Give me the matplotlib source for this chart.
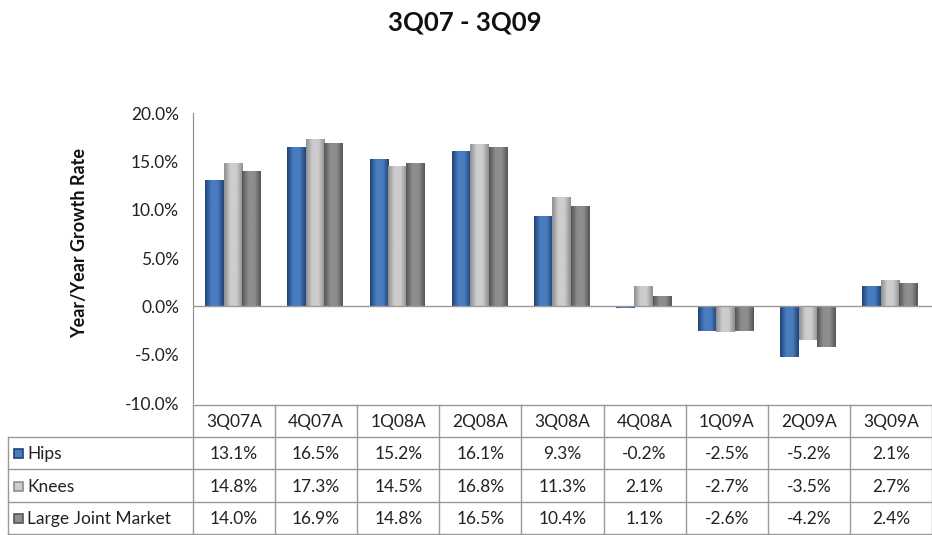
import numpy as np
import matplotlib.pyplot as plt
from matplotlib.colors import LinearSegmentedColormap

# chart data
quarters = ['3Q07A', '4Q07A', '1Q08A', '2Q08A', '3Q08A', '4Q08A', '1Q09A', '2Q09A', '3Q09A']
hips = [13.1, 16.5, 15.2, 16.1, 9.3, -0.2, -2.5, -5.2, 2.1]
knees = [14.8, 17.3, 14.5, 16.8, 11.3, 2.1, -2.7, -3.5, 2.7]
large_joint = [14.0, 16.9, 14.8, 16.5, 10.4, 1.1, -2.6, -4.2, 2.4]
series_names = ['Hips', 'Knees', 'Large Joint Market']
y_ticks = [-10, -5, 0, 5, 10, 15, 20]

plt.rcParams['font.family'] = ['Lato', 'DejaVu Sans']

W, H = 932, 535
fig = plt.figure(figsize=(W / 100, H / 100), dpi=100)

# plot area
left, right, top, bottom = 193, 932, 113, 403
ax = fig.add_axes([left / W, 1 - bottom / H, (right - left) / W, (bottom - top) / H])

series = [hips, knees, large_joint]
# (edge, centre) colours for a rounded look
shades = [('#1f4377', '#4a7dc0'), ('#8e8e8e', '#cdcdcd'), ('#555555', '#8e8e8e')]
offsets = [-0.24, -0.015, 0.21]
width = 0.22
x = np.arange(len(quarters))

for vals, (dark, light), off in zip(series, shades, offsets):
    bars = ax.bar(x + off, vals, width=width, color=light, edgecolor='none', zorder=2)
    cmap = LinearSegmentedColormap.from_list('g', [dark, light, light, dark])
    grad = np.linspace(0, 1, 64).reshape(1, -1)
    for b in bars:
        x0, y0 = b.get_x(), b.get_y()
        w, h = b.get_width(), b.get_height()
        im = ax.imshow(grad, cmap=cmap, aspect='auto', zorder=3,
                       extent=[x0, x0 + w, y0, y0 + h], interpolation='bicubic')
        im.set_clip_path(b)

ax.set_xlim(-0.5, len(quarters) - 0.5)
ax.set_ylim(-10, 20)
ax.set_yticks(y_ticks)
ax.set_yticklabels(['%.1f%%' % t for t in y_ticks])
ax.set_xticks([])
ax.tick_params(axis='y', length=0, pad=10, labelsize=12.5, colors='#222222')
for s in ['top', 'right', 'bottom']:
    ax.spines[s].set_visible(False)
ax.spines['left'].set_color('#8a8a8a')
ax.axhline(0, color='#9a9a9a', linewidth=1, zorder=4)

fig.text(465 / W, 1 - 22 / H, '3Q07 - 3Q09', ha='center', va='center',
         fontsize=18.5, fontweight='bold', color='#111111')
fig.text(80 / W, 1 - 243 / H, 'Year/Year Growth Rate', rotation=90,
         ha='center', va='center', fontsize=13, fontweight='bold', color='#111111')

# data table below the plot
tax = fig.add_axes([0, 0, 1, 1])
tax.set_xlim(0, W)
tax.set_ylim(H, 0)
tax.axis('off')

col_edges = np.linspace(left, right, len(quarters) + 1)
row_edges = [405, 437, 469, 502, 534]
first_col = 8
line_kw = dict(color='#999999', linewidth=1)

# header row
tax.plot([left, right], [row_edges[0], row_edges[0]], **line_kw)
for xe in col_edges:
    tax.plot([xe, xe], [row_edges[0], row_edges[-1]], **line_kw)
tax.plot([first_col, first_col], [row_edges[1], row_edges[-1]], **line_kw)
for ye in row_edges[1:]:
    tax.plot([first_col, right], [ye, ye], **line_kw)

fs = 12.5
for i, q in enumerate(quarters):
    cx = (col_edges[i] + col_edges[i + 1]) / 2
    tax.text(cx, (row_edges[0] + row_edges[1]) / 2 + 1, q, ha='center', va='center',
             fontsize=fs, color='#222222')

for r, (name, vals, (dark, light)) in enumerate(zip(series_names, series, shades)):
    cy = (row_edges[r + 1] + row_edges[r + 2]) / 2 + 1
    tax.add_patch(plt.Rectangle((14, cy - 5), 9, 9, facecolor=light, edgecolor=dark, linewidth=1.2))
    tax.text(27, cy, name, ha='left', va='center', fontsize=fs, color='#222222')
    for i, v in enumerate(vals):
        cx = (col_edges[i] + col_edges[i + 1]) / 2
        tax.text(cx, cy, '%.1f%%' % v, ha='center', va='center', fontsize=fs, color='#222222')

fig.savefig('out.png', dpi=100)
